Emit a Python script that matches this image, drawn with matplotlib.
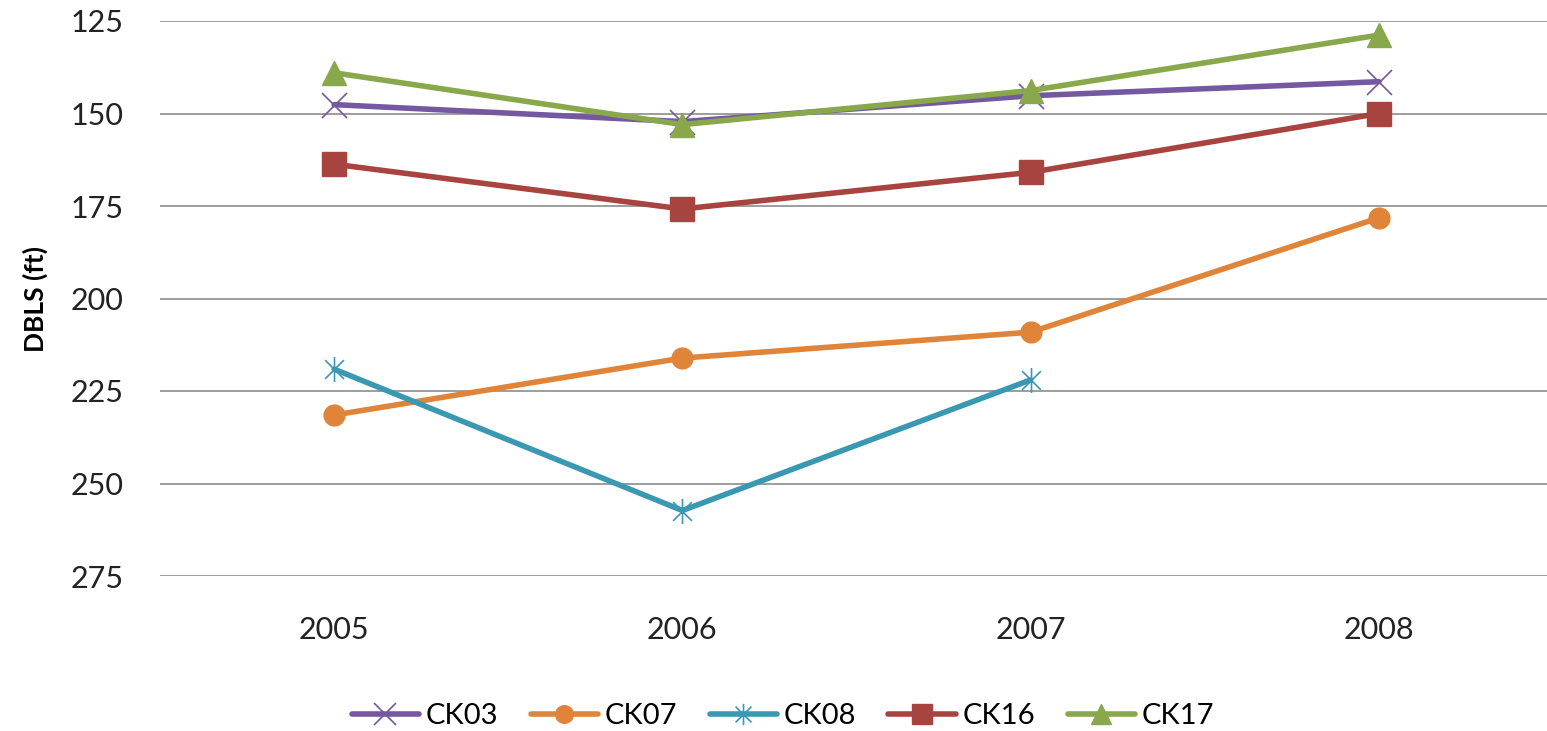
import matplotlib
matplotlib.use("Agg")
import matplotlib.pyplot as plt
import numpy as np
from matplotlib.path import Path

years = ["2005", "2006", "2007", "2008"]
series_names = ["CK03", "CK07", "CK08", "CK16", "CK17"]
ck03 = [147.6, 152.2, 145.2, 141.4]
ck07 = [231.5, 216.1, 209.1, 178.2]
ck08 = [219.1, 257.3, 222.0, np.nan]
ck16 = [163.7, 175.8, 165.9, 150.0]
ck17 = [139.0, 153.0, 143.8, 128.8]
yticks = [125, 150, 175, 200, 225, 250, 275]

plt.rcParams['font.family'] = ['Lato', 'DejaVu Sans']

star = Path([(0, -1), (0, 1), (-0.75, -0.75), (0.75, 0.75), (-0.75, 0.75), (0.75, -0.75)],
            [Path.MOVETO, Path.LINETO, Path.MOVETO, Path.LINETO, Path.MOVETO, Path.LINETO])

W, H = 1547, 731
fig = plt.figure(figsize=(W / 100, H / 100), dpi=100)
ax = fig.add_axes([160 / W, 1 - 576 / H, (1553 - 160) / W, (576 - 21) / H])

x = np.arange(len(years))
styles = [
    (ck03, '#7458A0', dict(marker='x', markersize=18, markeredgewidth=1.2)),
    (ck07, '#E0843A', dict(marker='o', markersize=15)),
    (ck08, '#3B98B2', dict(marker=star, markersize=18, markeredgewidth=1.2)),
    (ck16, '#A8443F', dict(marker='s', markersize=17)),
    (ck17, '#89A84C', dict(marker='^', markersize=17)),
]
for name, (vals, col, mk) in zip(series_names, styles):
    ax.plot(x, vals, color=col, lw=4.0, label=name, markerfacecolor=col,
            markeredgecolor=col, solid_capstyle='round', **mk)

ax.set_xlim(-0.5, len(years) - 0.5)
ax.set_ylim(275, 125)
ax.set_yticks(yticks)
ax.set_xticks(x)
ax.set_xticklabels(years)
ax.tick_params(axis='both', length=0, labelsize=22, colors='#222222')
ax.tick_params(axis='y', pad=26)
ax.tick_params(axis='x', pad=29)
for s in ax.spines.values():
    s.set_visible(False)
ax.grid(axis='y', color='#8c8c8c', lw=1.2)
ax.set_axisbelow(True)
ax.set_ylabel("DBLS (ft)", fontsize=19, fontweight='bold', labelpad=20)
ax.yaxis.set_label_coords(-112 / (1553 - 160), 0.5)

fig.legend(loc='center', bbox_to_anchor=(783 / W, 1 - 716 / H), ncol=5, frameon=False,
           fontsize=21, handlelength=2.3, handletextpad=0.25, columnspacing=1.1,
           markerscale=0.85)

fig.savefig("out.png", dpi=100)
